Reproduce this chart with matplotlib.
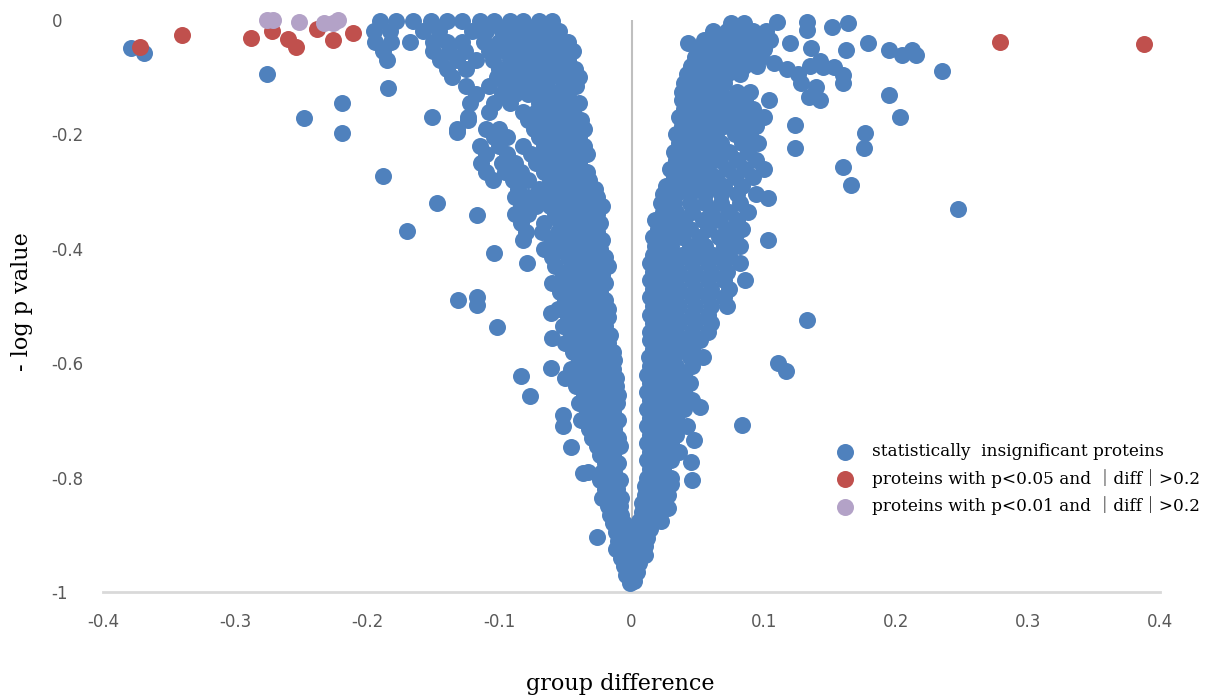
import matplotlib
matplotlib.use("Agg")
import matplotlib.pyplot as plt

# values: rows of (-log p, [group differences])
left_rows = [
    (-0.002, [-0.190, -0.178, -0.165, -0.152, -0.140, -0.128, -0.115, -0.104, -0.092, -0.082, -0.070, -0.060]),
    (-0.020, [-0.195, -0.183, -0.158, -0.146, -0.121, -0.110, -0.098, -0.087, -0.076, -0.066, -0.055]),
    (-0.038, [-0.194, -0.182, -0.168, -0.150, -0.140, -0.128, -0.112, -0.100, -0.090, -0.078, -0.068, -0.058, -0.048]),
    (-0.055, [-0.188, -0.150, -0.138, -0.126, -0.108, -0.096, -0.085, -0.074, -0.064, -0.054, -0.044]),
    (-0.070, [-0.185, -0.145, -0.132, -0.118, -0.105, -0.092, -0.080, -0.070, -0.060, -0.048]),
    (-0.085, [-0.140, -0.125, -0.100, -0.088, -0.078, -0.066, -0.055, -0.043]),
    (-0.100, [-0.136, -0.102, -0.092, -0.082, -0.072, -0.062, -0.050, -0.040]),
    (-0.115, [-0.125, -0.108, -0.095, -0.084, -0.074, -0.064, -0.052, -0.042]),
    (-0.130, [-0.118, -0.098, -0.088, -0.078, -0.068, -0.058, -0.048]),
    (-0.145, [-0.122, -0.104, -0.092, -0.070, -0.060, -0.050, -0.040]),
    (-0.160, [-0.108, -0.082, -0.072, -0.062, -0.052, -0.044]),
    (-0.175, [-0.124, -0.078, -0.068, -0.058, -0.048, -0.038]),
    (-0.190, [-0.132, -0.110, -0.100, -0.074, -0.064, -0.054, -0.044, -0.036]),
    (-0.205, [-0.104, -0.094, -0.070, -0.060, -0.050, -0.040]),
    (-0.220, [-0.115, -0.100, -0.082, -0.066, -0.056, -0.046, -0.036]),
    (-0.235, [-0.110, -0.094, -0.076, -0.064, -0.054, -0.044, -0.034]),
    (-0.250, [-0.114, -0.098, -0.088, -0.072, -0.060, -0.050, -0.040]),
    (-0.265, [-0.110, -0.096, -0.084, -0.066, -0.056, -0.046, -0.034]),
    (-0.280, [-0.105, -0.090, -0.078, -0.062, -0.052, -0.042, -0.032]),
    (-0.295, [-0.086, -0.070, -0.058, -0.048, -0.038, -0.028]),
    (-0.310, [-0.088, -0.078, -0.066, -0.054, -0.044, -0.034, -0.026]),
    (-0.325, [-0.084, -0.072, -0.062, -0.050, -0.040, -0.030, -0.022]),
    (-0.340, [-0.088, -0.078, -0.058, -0.048, -0.036, -0.026]),
    (-0.355, [-0.084, -0.066, -0.054, -0.044, -0.034, -0.024]),
    (-0.370, [-0.080, -0.068, -0.056, -0.046, -0.036, -0.026]),
    (-0.385, [-0.082, -0.060, -0.050, -0.040, -0.030, -0.022]),
    (-0.400, [-0.066, -0.054, -0.044, -0.034, -0.024]),
    (-0.415, [-0.060, -0.048, -0.038, -0.028, -0.020]),
    (-0.430, [-0.058, -0.046, -0.036, -0.026, -0.018]),
    (-0.445, [-0.052, -0.042, -0.032, -0.022]),
    (-0.460, [-0.060, -0.048, -0.038, -0.028, -0.020]),
    (-0.475, [-0.054, -0.044, -0.034, -0.024]),
    (-0.490, [-0.050, -0.040, -0.030, -0.020]),
    (-0.505, [-0.056, -0.046, -0.036, -0.026, -0.018]),
    (-0.520, [-0.048, -0.038, -0.028, -0.018]),
    (-0.535, [-0.052, -0.040, -0.030, -0.020]),
    (-0.550, [-0.046, -0.036, -0.026, -0.016]),
    (-0.565, [-0.050, -0.038, -0.028, -0.018]),
    (-0.580, [-0.044, -0.034, -0.024, -0.014]),
    (-0.595, [-0.040, -0.030, -0.020, -0.013]),
    (-0.610, [-0.046, -0.034, -0.024, -0.014]),
    (-0.625, [-0.050, -0.038, -0.028, -0.018, -0.012]),
    (-0.640, [-0.042, -0.032, -0.022, -0.012]),
    (-0.655, [-0.036, -0.026, -0.016, -0.010]),
    (-0.670, [-0.040, -0.030, -0.020, -0.011]),
    (-0.685, [-0.034, -0.024, -0.014]),
    (-0.700, [-0.038, -0.028, -0.018, -0.010]),
    (-0.715, [-0.032, -0.022, -0.013]),
    (-0.730, [-0.030, -0.020, -0.010]),
    (-0.745, [-0.026, -0.016, -0.009]),
    (-0.760, [-0.024, -0.014]),
    (-0.775, [-0.020, -0.010]),
    (-0.790, [-0.022, -0.013]),
    (-0.805, [-0.024, -0.016, -0.009]),
    (-0.820, [-0.020, -0.011]),
    (-0.835, [-0.022, -0.014, -0.008]),
    (-0.850, [-0.018, -0.009]),
    (-0.865, [-0.016, -0.008]),
    (-0.880, [-0.014, -0.006]),
    (-0.895, [-0.012, -0.004]),
    (-0.910, [-0.010, -0.003]),
    (-0.925, [-0.012, -0.004, 0.002]),
    (-0.940, [-0.008, 0.000]),
    (-0.955, [-0.006, 0.002]),
    (-0.970, [-0.004, 0.002]),
    (-0.985, [-0.001]),
]

right_rows = [
    (-0.005, [0.075, 0.085]),
    (-0.020, [0.062, 0.072, 0.082, 0.092, 0.102]),
    (-0.035, [0.055, 0.065, 0.075, 0.085, 0.095, 0.105]),
    (-0.050, [0.050, 0.060, 0.070, 0.080, 0.090, 0.100]),
    (-0.065, [0.048, 0.058, 0.068, 0.078, 0.088, 0.098]),
    (-0.080, [0.045, 0.055, 0.065, 0.075, 0.085, 0.095]),
    (-0.095, [0.042, 0.052, 0.062, 0.072, 0.082]),
    (-0.110, [0.040, 0.050, 0.060, 0.070]),
    (-0.125, [0.038, 0.048, 0.058, 0.068, 0.080, 0.090]),
    (-0.140, [0.038, 0.048, 0.058, 0.066, 0.076, 0.086]),
    (-0.155, [0.040, 0.050, 0.060, 0.070, 0.080, 0.092]),
    (-0.170, [0.036, 0.046, 0.056, 0.066, 0.076, 0.088, 0.100]),
    (-0.185, [0.038, 0.048, 0.058, 0.070, 0.082, 0.094]),
    (-0.200, [0.034, 0.044, 0.054, 0.064, 0.078, 0.090]),
    (-0.215, [0.036, 0.046, 0.056, 0.068, 0.084, 0.096]),
    (-0.230, [0.032, 0.042, 0.052, 0.062, 0.074, 0.088]),
    (-0.245, [0.034, 0.044, 0.054, 0.066, 0.080, 0.094]),
    (-0.260, [0.029, 0.038, 0.048, 0.058, 0.072, 0.086, 0.100]),
    (-0.275, [0.032, 0.042, 0.052, 0.064, 0.078, 0.092]),
    (-0.290, [0.026, 0.036, 0.046, 0.058, 0.070, 0.084]),
    (-0.305, [0.024, 0.034, 0.044, 0.056, 0.068, 0.080, 0.094]),
    (-0.320, [0.022, 0.032, 0.044, 0.056, 0.068, 0.082]),
    (-0.335, [0.024, 0.034, 0.046, 0.060, 0.074, 0.088]),
    (-0.350, [0.018, 0.028, 0.040, 0.054, 0.066, 0.080]),
    (-0.365, [0.020, 0.032, 0.044, 0.058, 0.072, 0.084]),
    (-0.380, [0.016, 0.026, 0.038, 0.052, 0.066, 0.078]),
    (-0.395, [0.018, 0.030, 0.044, 0.056, 0.070, 0.082]),
    (-0.410, [0.016, 0.026, 0.038, 0.050, 0.062, 0.074]),
    (-0.425, [0.014, 0.024, 0.034, 0.046, 0.058, 0.070, 0.082]),
    (-0.440, [0.016, 0.026, 0.036, 0.048, 0.060, 0.072]),
    (-0.455, [0.014, 0.024, 0.034, 0.046, 0.058, 0.070, 0.086]),
    (-0.470, [0.016, 0.026, 0.036, 0.048, 0.060, 0.074]),
    (-0.485, [0.014, 0.024, 0.034, 0.046, 0.058, 0.070]),
    (-0.500, [0.016, 0.026, 0.036, 0.048, 0.060, 0.072]),
    (-0.515, [0.014, 0.024, 0.034, 0.046, 0.058]),
    (-0.530, [0.016, 0.026, 0.036, 0.048, 0.060]),
    (-0.545, [0.014, 0.024, 0.034, 0.046, 0.058]),
    (-0.560, [0.014, 0.022, 0.032, 0.042, 0.052]),
    (-0.575, [0.016, 0.026, 0.036, 0.046]),
    (-0.590, [0.013, 0.022, 0.032, 0.044, 0.054]),
    (-0.605, [0.014, 0.024, 0.034, 0.046]),
    (-0.620, [0.012, 0.020, 0.030, 0.040]),
    (-0.635, [0.014, 0.024, 0.034, 0.044]),
    (-0.650, [0.012, 0.020, 0.030, 0.040]),
    (-0.665, [0.014, 0.024, 0.034, 0.046]),
    (-0.680, [0.012, 0.020, 0.030, 0.040]),
    (-0.695, [0.014, 0.024, 0.034]),
    (-0.710, [0.012, 0.020, 0.030, 0.042]),
    (-0.725, [0.014, 0.024, 0.034]),
    (-0.740, [0.012, 0.020, 0.030]),
    (-0.755, [0.014, 0.024, 0.036]),
    (-0.770, [0.012, 0.020, 0.030]),
    (-0.785, [0.014, 0.024]),
    (-0.800, [0.012, 0.020, 0.030]),
    (-0.815, [0.010, 0.018, 0.026]),
    (-0.830, [0.010, 0.018, 0.028]),
    (-0.845, [0.008, 0.016, 0.024]),
    (-0.860, [0.008, 0.016]),
    (-0.875, [0.006, 0.014, 0.022]),
    (-0.890, [0.006, 0.014]),
    (-0.905, [0.004, 0.012]),
    (-0.920, [0.004, 0.010]),
    (-0.935, [0.004, 0.010]),
    (-0.950, [0.006]),
    (-0.965, [0.004]),
    (-0.980, [0.002]),
]

# scattered blue points (diff, -log p)
blue_scatter = [
    (-0.379, -0.049), (-0.369, -0.058), (-0.276, -0.094), (-0.248, -0.171),
    (-0.219, -0.145), (-0.219, -0.198), (-0.188, -0.273), (-0.184, -0.119),
    (-0.170, -0.369), (-0.147, -0.320), (-0.151, -0.170), (-0.117, -0.341),
    (-0.104, -0.407), (-0.131, -0.490), (-0.117, -0.484), (-0.117, -0.498),
    (-0.079, -0.425), (-0.102, -0.537), (-0.084, -0.622), (-0.077, -0.657),
    (-0.061, -0.512), (-0.060, -0.556), (-0.061, -0.608), (-0.052, -0.690),
    (-0.052, -0.710), (-0.046, -0.747), (-0.037, -0.792), (-0.033, -0.790),
    (-0.026, -0.904), (-0.124, -0.170), (-0.132, -0.196),
    (0.043, -0.040), (0.110, -0.003), (0.133, -0.003), (0.133, -0.017),
    (0.120, -0.040), (0.136, -0.049), (0.152, -0.012), (0.164, -0.005),
    (0.179, -0.040), (0.195, -0.052), (0.205, -0.061), (0.212, -0.052),
    (0.215, -0.061), (0.235, -0.089), (0.162, -0.052), (0.145, -0.082),
    (0.153, -0.082), (0.160, -0.096), (0.160, -0.110), (0.108, -0.075),
    (0.118, -0.085), (0.126, -0.095), (0.135, -0.080), (0.143, -0.072),
    (0.128, -0.110), (0.140, -0.118), (0.143, -0.140), (0.134, -0.135),
    (0.104, -0.140), (0.124, -0.184), (0.124, -0.224), (0.195, -0.131),
    (0.203, -0.170), (0.177, -0.198), (0.176, -0.224), (0.160, -0.257),
    (0.166, -0.288), (0.247, -0.330), (0.103, -0.311), (0.103, -0.385),
    (0.133, -0.525), (0.111, -0.600), (0.117, -0.613), (0.084, -0.708),
    (0.052, -0.677), (0.047, -0.734), (0.045, -0.773), (0.046, -0.804),
    (0.030, -0.812), (0.028, -0.853),
]

red_x = [-0.372, -0.340, -0.288, -0.272, -0.260, -0.254, -0.238, -0.226, -0.211, 0.279, 0.388]
red_y = [-0.047, -0.026, -0.031, -0.019, -0.033, -0.047, -0.016, -0.035, -0.023, -0.038, -0.042]

purple_x = [-0.276, -0.271, -0.252, -0.233, -0.226, -0.222]
purple_y = [0.000, 0.000, -0.003, -0.005, -0.005, 0.000]

legend_labels = ["statistically  insignificant proteins",
                 "proteins with p<0.05 and \uff5cdiff\uff5c>0.2",
                 "proteins with p<0.01 and \uff5cdiff\uff5c>0.2"]

xticks = [-0.4, -0.3, -0.2, -0.1, 0, 0.1, 0.2, 0.3, 0.4]
xtick_labels = ["-0.4", "-0.3", "-0.2", "-0.1", "0", "0.1", "0.2", "0.3", "0.4"]
yticks = [0, -0.2, -0.4, -0.6, -0.8, -1]
ytick_labels = ["0", "-0.2", "-0.4", "-0.6", "-0.8", "-1"]

blue_x = []
blue_y = []
for y, xs in left_rows + right_rows:
    for x in xs:
        blue_x.append(x)
        blue_y.append(y)
for x, y in blue_scatter:
    blue_x.append(x)
    blue_y.append(y)

W, H = 1215, 698
fig = plt.figure(figsize=(W / 100, H / 100), dpi=100)
ax = fig.add_axes([103 / W, 106 / H, 1057 / W, 572 / H])

ms = 150
ax.scatter(blue_x, blue_y, s=ms, color="#4F81BD", linewidths=0, zorder=3, clip_on=False,
           label=legend_labels[0])
ax.scatter(red_x, red_y, s=ms, color="#C0504D", linewidths=0, zorder=4, clip_on=False,
           label=legend_labels[1])
ax.scatter(purple_x, purple_y, s=ms, color="#B3A2C7", linewidths=0, zorder=5, clip_on=False,
           label=legend_labels[2])

ax.axvline(0, color="#bfbfbf", lw=1.5, zorder=1)
ax.set_xlim(-0.4, 0.4)
ax.set_ylim(-1, 0)

for s in ["top", "right", "left"]:
    ax.spines[s].set_visible(False)
ax.spines["bottom"].set_color("#d9d9d9")
ax.spines["bottom"].set_linewidth(2)
ax.spines["bottom"].set_zorder(1)

ax.set_xticks(xticks)
ax.set_xticklabels(xtick_labels)
ax.set_yticks(yticks)
ax.set_yticklabels(ytick_labels)
ax.tick_params(axis="both", length=0, labelsize=12, labelcolor="#595959")
ax.tick_params(axis="x", pad=15)
ax.tick_params(axis="y", pad=37)
for lbl in ax.get_yticklabels():
    lbl.set_horizontalalignment("left")

# axis titles placed in figure pixels
fig.text(620 / W, 1 - 684 / H, "group difference", fontsize=16, family="DejaVu Serif",
         ha="center", va="center")
fig.text(22 / W, 1 - 302 / H, "- log p value", fontsize=16, family="DejaVu Serif",
         ha="center", va="center", rotation=90)

ax.legend(loc="upper left", bbox_to_anchor=(826 / W, 1 - 435 / H),
          bbox_transform=fig.transFigure, frameon=False, borderpad=0,
          handlelength=1.2, handletextpad=1.0, labelspacing=0.5,
          prop={"family": ["DejaVu Serif", "Noto Sans CJK SC"], "size": 12.2})

fig.savefig("out.png", dpi=100)
